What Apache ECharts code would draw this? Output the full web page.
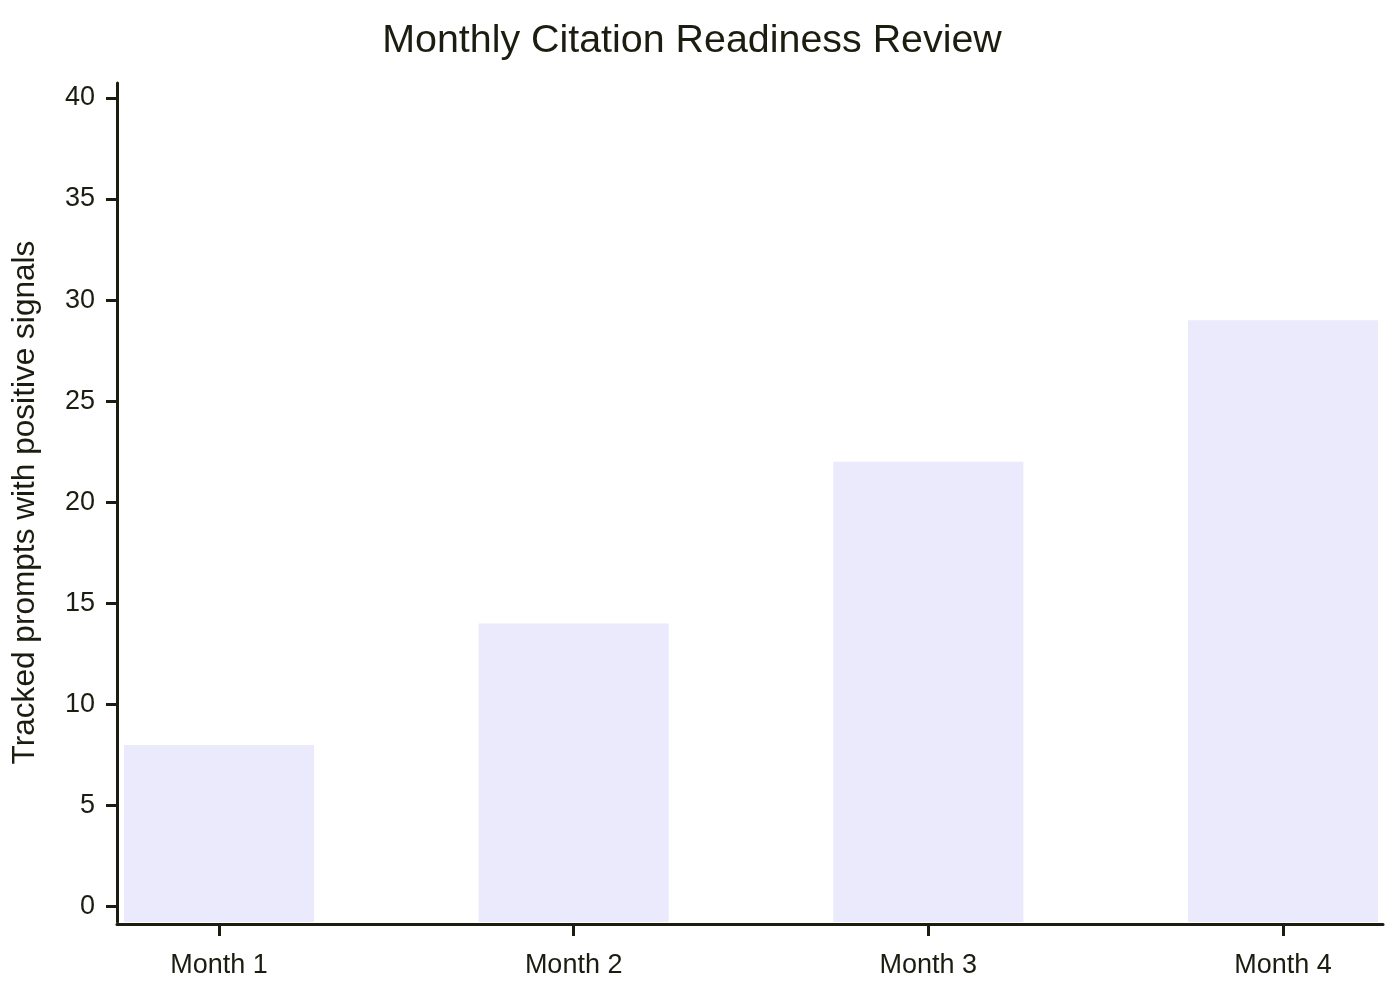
<!DOCTYPE html>
<html>
<head>
<meta charset="utf-8">
<title>Monthly Citation Readiness Review</title>
<script src="https://cdn.jsdelivr.net/npm/echarts@6/dist/echarts.min.js"></script>
<style>
  html, body { margin: 0; padding: 0; background: #ffffff; }
  #chart { width: 1400px; height: 1000px; }
</style>
</head>
<body>
<div id="chart"></div>
<script>
// data
const months = ['Month 1', 'Month 2', 'Month 3', 'Month 4'];
const monthPositions = [1, 2, 3, 4];
const promptCounts = [8, 14, 22, 29];
const yTicks = [0, 5, 10, 15, 20, 25, 30, 35, 40];

const INK = '#1c1c10';
const BAR_COLOR = '#ebeafc';
const BAR_WIDTH = 0.536; // in x data units
const FONT = '"Liberation Sans", Arial, sans-serif';

const chart = echarts.init(document.getElementById('chart'));

const option = {
  backgroundColor: '#ffffff',
  animation: false,
  title: {
    text: 'Monthly Citation Readiness Review',
    left: 687,
    textAlign: 'center',
    top: 17,
    textStyle: { fontFamily: FONT, fontSize: 39.4, fontWeight: 'normal', color: INK }
  },
  grid: { left: 117, right: 17, top: 83, bottom: 78, containLabel: false },
  xAxis: {
    type: 'value',
    min: 0.7124,
    max: 4.282,
    offset: 2,
    splitLine: { show: false },
    axisLine: { show: true, onZero: false, lineStyle: { color: INK, width: 3 } },
    axisTick: { show: true, length: 12, lineStyle: { color: INK, width: 3 }, customValues: monthPositions },
    axisLabel: {
      customValues: monthPositions,
      formatter: (v) => months[Math.round(v) - 1] || '',
      margin: 28,
      fontFamily: FONT,
      fontSize: 27,
      color: INK
    }
  },
  yAxis: {
    type: 'value',
    min: -0.76,
    max: 40.74,
    name: 'Tracked prompts with positive signals',
    nameLocation: 'middle',
    nameGap: 76,
    nameTextStyle: { fontFamily: FONT, fontSize: 31.6, color: INK },
    splitLine: { show: false },
    axisLine: { show: true, onZero: false, lineStyle: { color: INK, width: 3 } },
    axisTick: { show: true, length: 11, lineStyle: { color: INK, width: 3 }, customValues: yTicks },
    axisLabel: {
      customValues: yTicks,
      margin: 22,
      fontFamily: FONT,
      fontSize: 27,
      color: INK
    }
  },
  series: [
    {
      name: 'Tracked prompts',
      type: 'custom',
      encode: { x: 0, y: 1 },
      data: promptCounts.map((v, i) => [monthPositions[i], v]),
      renderItem: (params, api) => {
        const top = api.coord([api.value(0), api.value(1)]);
        const w = api.size([BAR_WIDTH, 0])[0];
        const cs = params.coordSys;
        const bottom = cs.y + cs.height;
        return {
          type: 'rect',
          shape: { x: top[0] - w / 2, y: top[1], width: w, height: bottom - top[1] },
          style: { fill: BAR_COLOR }
        };
      },
      z: 1
    }
  ]
};

chart.setOption(option);
</script>
</body>
</html>
